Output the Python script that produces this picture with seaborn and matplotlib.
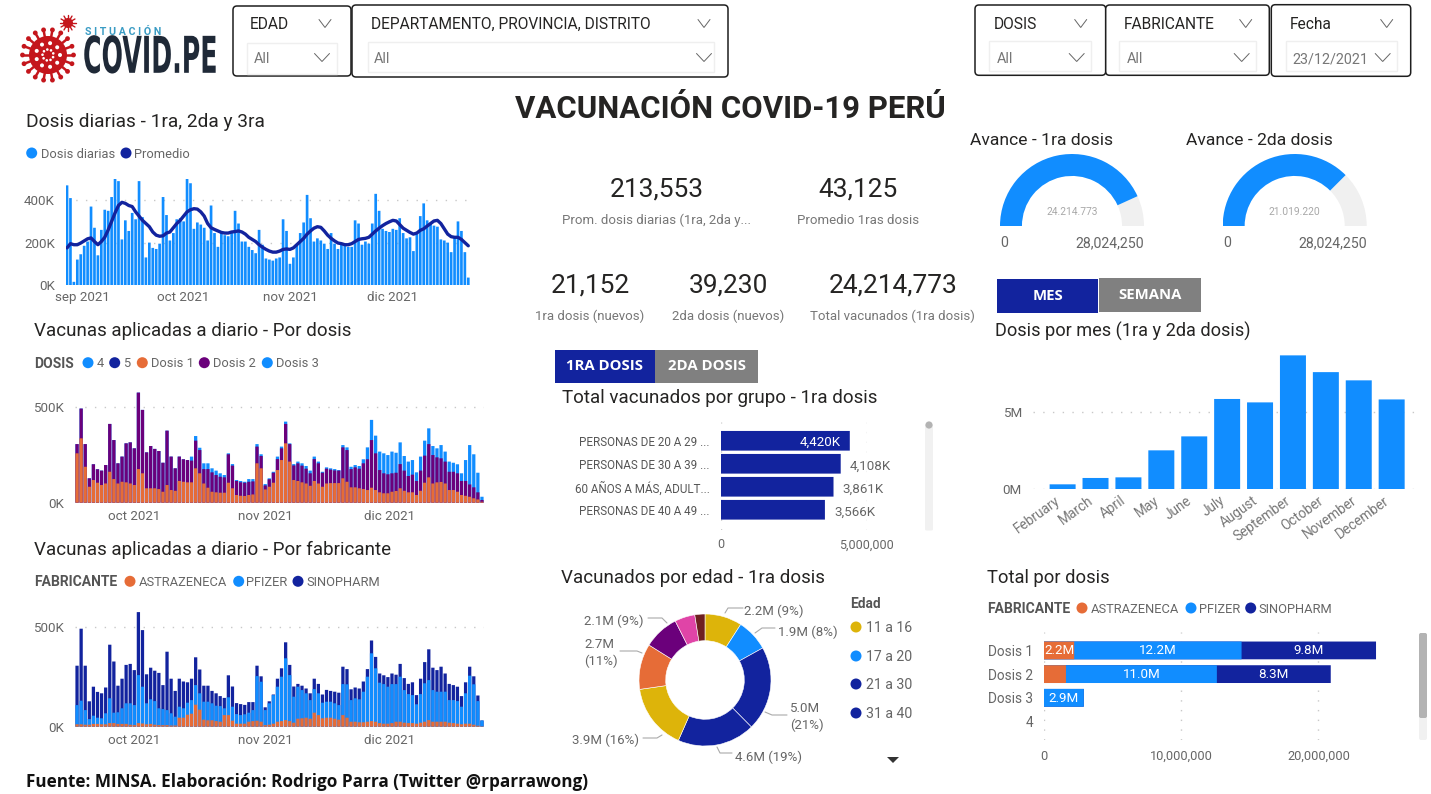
import math
import numpy as np
import pandas as pd
import matplotlib
matplotlib.use("Agg")
import matplotlib.pyplot as plt
from matplotlib.patches import Wedge, Circle, Rectangle, FancyBboxPatch
from matplotlib.patheffects import AbstractPathEffect
from matplotlib.transforms import Affine2D, ScaledTranslation
import seaborn as sns

sns.set_theme(style="white")
plt.rcParams['font.family'] = ['Roboto', 'DejaVu Sans']

BLUE, NAVY, ORANGE, PURPLE = "#118DFF", "#12239E", "#E66C37", "#6B007B"
GOLD, PINK, BROWN = "#DDB40A", "#E044A7", "#6E2020"
INK, GREY, DOTS = "#252423", "#666666", "#C8C8C8"

# ---- data --------------------------------------------------------------
dosis_diarias = [470,410,15,120,145,185,205,370,270,140,260,355,350,415,500,490,215,305,255,340,
    310,490,320,130,200,175,170,195,415,330,210,245,310,315,300,500,480,265,295,285,
    270,210,375,245,180,245,235,230,250,350,290,205,205,180,165,150,260,190,125,120,
    115,125,130,310,255,100,130,185,245,295,425,315,205,220,210,195,170,245,195,170,
    190,185,180,180,305,290,190,205,195,290,430,350,265,255,250,265,260,315,245,220,
    225,160,240,325,385,305,290,280,275,215,210,200,155,225,300,255,155,35]
promedio = [175,195,190,190,198,208,218,222,205,190,205,225,260,300,340,375,390,385,375,370,
    345,325,305,290,275,250,235,230,232,245,250,270,290,305,325,345,355,360,358,345,
    325,290,270,262,255,248,245,245,250,252,255,250,240,225,215,205,190,178,168,160,
    155,155,160,168,170,168,175,190,205,220,240,255,268,275,272,255,235,220,208,198,
    195,190,190,195,205,215,218,220,225,240,255,268,280,290,298,305,302,285,268,258,
    248,240,245,258,265,278,290,302,305,290,265,240,228,225,225,215,200,185]
dias_labels1 = ["sep 2021", "oct 2021", "nov 2021", "dic 2021"]
dias_ticks1 = [4.5, 34, 65, 95]

# running tops of the stacked daily bars (thousands)
hasta_dosis1 = [257,335,187,83,118,104,92,100,161,123,100,109,106,100,92,175,153,75,75,75,
    71,57,92,66,62,113,109,106,106,179,153,100,78,57,54,52,52,104,75,40,
    36,35,40,43,205,179,69,83,104,170,222,309,214,118,113,106,100,88,113,100,
    83,100,102,102,102,127,109,80,80,75,71,66,78,66,54,49,49,57,61,75,
    62,54,54,40,62,104,132,100,106,108,100,66,66,57,40,36,31,23,17,5]
hasta_dosis2 = [305,490,305,127,200,174,167,196,410,326,205,240,309,314,283,573,483,262,295,280,
    269,208,375,240,179,240,226,222,219,323,274,175,175,158,144,135,132,252,193,113,
    106,104,109,111,292,243,90,122,156,227,283,410,305,194,205,193,177,153,227,205,
    156,177,172,168,167,288,274,175,184,177,205,226,326,257,170,153,148,153,156,201,
    167,139,146,113,167,245,305,248,236,231,214,161,161,153,113,113,95,80,54,14]
dosis_total = [305,490,305,127,200,174,167,196,410,326,205,240,309,314,283,573,483,262,295,280,
    269,208,375,240,179,240,226,222,240,347,286,205,205,179,167,153,144,257,201,118,
    113,109,123,123,305,252,97,127,161,240,292,422,309,201,214,205,191,167,240,214,
    161,184,179,175,170,300,288,187,196,191,226,288,431,349,266,257,248,266,260,314,
    243,214,222,158,240,323,387,295,283,300,266,214,208,200,153,222,300,252,156,31]
astrazeneca = [12,12,10,10,14,14,12,12,18,18,14,14,14,10,8,18,16,12,14,10,
    8,8,8,6,6,45,45,60,65,110,85,35,32,32,28,25,58,58,30,15,
    15,15,25,28,30,25,8,10,15,25,28,33,28,20,40,42,45,40,70,58,
    42,45,45,40,35,58,45,25,25,22,22,25,28,25,18,15,15,18,25,25,
    20,18,18,15,20,25,33,25,25,25,25,20,18,15,12,15,15,10,5,2]
hasta_pfizer = [108,130,83,38,55,45,42,67,142,70,72,92,117,117,108,258,200,117,137,128,
    92,88,83,67,50,100,92,120,133,208,167,125,125,117,105,103,92,147,100,63,
    58,62,70,83,253,225,83,117,158,200,250,342,258,150,200,183,167,133,188,167,
    120,125,125,117,108,213,212,133,142,137,175,250,367,292,220,213,200,213,213,250,
    183,163,158,112,163,217,233,183,175,175,175,133,133,128,100,167,255,212,128,31]
dias_labels2 = ["oct 2021", "nov 2021", "dic 2021"]
dias_ticks2 = [14, 46, 76.5]

kpi_values = ["213,553", "43,125", "21,152", "39,230", "24,214,773"]
kpi_names = ["Prom. dosis diarias (1ra, 2da y...", "Promedio 1ras dosis", "1ra dosis (nuevos)",
             "2da dosis (nuevos)", "Total vacunados (1ra dosis)"]

gauge_max = 28024250
avance_1ra = 24214773
avance_2da = 21019220

grupos = ["PERSONAS DE 20 A 29 ...", "PERSONAS DE 30 A 39 ...", "60 AÑOS A MÁS, ADULT...", "PERSONAS DE 40 A 49 ..."]
grupos_k = [4420, 4108, 3861, 3566]

edad_vals = [2.2, 1.9, 5.0, 4.6, 3.9, 2.7, 2.1, 1.2, 0.6]
edad_cols = [GOLD, BLUE, NAVY, NAVY, GOLD, ORANGE, PURPLE, PINK, BROWN]
edad_legend = ["11 a 16", "17 a 20", "21 a 30", "31 a 40"]

meses = ["February","March","April","May","June","July","August","September","October","November","December"]
meses_m = [0.32,0.73,0.77,2.51,3.41,5.82,5.6,8.63,7.55,7.02,5.79]

dosis_names = ["Dosis 1","Dosis 2","Dosis 3","4"]
tot_astra = [2.2,1.6,0.0,0.0]
tot_pfizer = [12.2,11.0,2.9,0.0]
tot_sino = [9.8,8.3,0.0,0.0]

# ---- layout helpers ----------------------------------------------------
W, H = 1431, 794
fig = plt.figure(figsize=(W/100, H/100), dpi=100, facecolor="white")

def axpx(x0, y0, x1, y1):
    ax = fig.add_axes([x0/W, 1-y1/H, (x1-x0)/W, (y1-y0)/H])
    ax.patch.set_alpha(0)
    return ax

def clean(ax, ysize=9.6, xsize=9.6, xpad=4, ypad=8):
    sns.despine(ax=ax, left=True, bottom=True, top=True, right=True)
    ax.set_xlabel(""); ax.set_ylabel("")
    ax.tick_params(axis="both", length=0)
    ax.tick_params(axis="x", labelsize=xsize, labelcolor=GREY, pad=xpad)
    ax.tick_params(axis="y", labelsize=ysize, labelcolor=GREY, pad=ypad)
    for p in ax.patches:
        p.set_snap(False)

def hgrid(ax, ys):
    for y in ys:
        ax.axhline(y, color=DOTS, lw=1, ls=(0, (1, 6)), zorder=0)

def vgrid(ax, xs):
    for x in xs:
        ax.axvline(x, color=DOTS, lw=1, ls=(0, (1, 6)), zorder=0)

def bars(ax, vals, color, width=0.8):
    sns.barplot(x=np.arange(len(vals)), y=vals, color=color,
                width=width, saturation=1, ax=ax, zorder=2, linewidth=0)

# ---- chart 1: dosis diarias --------------------------------------------
ax = axpx(66, 179, 470, 285)
bars(ax, dosis_diarias, BLUE, 0.78)
sns.lineplot(x=np.arange(len(promedio)), y=promedio, color=NAVY, lw=2.4, ax=ax, zorder=3)
ax.set_xlim(-0.3, 117.5); ax.set_ylim(0, 500)
ax.set_yticks([0, 200, 400]); ax.set_yticklabels(["0K", "200K", "400K"])
ax.set_xticks(dias_ticks1); ax.set_xticklabels(dias_labels1)
hgrid(ax, [200, 400]); clean(ax, xpad=4, ypad=8)

# ---- chart 2: por dosis ------------------------------------------------
ax = axpx(75, 388, 484, 502.7)
bars(ax, dosis_total, BLUE); bars(ax, hasta_dosis2, PURPLE); bars(ax, hasta_dosis1, ORANGE)
ax.set_xlim(-0.5, 99.5); ax.set_ylim(0, 597)
ax.set_yticks([0, 500]); ax.set_yticklabels(["0K", "500K"])
ax.set_xticks(dias_ticks2); ax.set_xticklabels(dias_labels2)
hgrid(ax, [500]); clean(ax, xpad=5, ypad=8)

# ---- chart 3: por fabricante -------------------------------------------
ax = axpx(75, 608, 484, 726.7)
bars(ax, dosis_total, NAVY); bars(ax, hasta_pfizer, BLUE); bars(ax, astrazeneca, ORANGE)
ax.set_xlim(-0.5, 99.5); ax.set_ylim(0, 593.5)
ax.set_yticks([0, 500]); ax.set_yticklabels(["0K", "500K"])
ax.set_xticks(dias_ticks2); ax.set_xticklabels(dias_labels2)
hgrid(ax, [500]); clean(ax, xpad=5, ypad=8)

# ---- gauges ------------------------------------------------------------
def gauge(value, maximum, cx):
    ax = axpx(cx-72, 154, cx+72, 226)
    ax.set_xlim(-1, 1); ax.set_ylim(0, 1); ax.axis("off")
    theta = 180*(1-value/maximum)
    ax.add_patch(Wedge((0, 0), 1, 0, theta, width=0.305, color="#F0F0F0", lw=0))
    ax.add_patch(Wedge((0, 0), 1, theta, 180, width=0.305, color=BLUE, lw=0))
gauge(avance_1ra, gauge_max, 1072)
gauge(avance_2da, gauge_max, 1294.7)

# ---- group bars --------------------------------------------------------
ax = axpx(721, 422, 866.7, 530)
sns.barplot(y=grupos, x=grupos_k, color=NAVY, saturation=1, width=0.855, ax=ax, zorder=2, orient="h", linewidth=0)
ax.set_xlim(0, 5000); ax.set_ylim(3.88, -0.817)
ax.set_xticks([0, 5000]); ax.set_xticklabels(["0", "5,000,000"])
vgrid(ax, [0, 5000]); clean(ax, ysize=8.4, xsize=9, xpad=6, ypad=8)
ax.tick_params(axis="y", labelcolor="#555555")
for i, v in enumerate(grupos_k):
    if i == 0:
        ax.text(v-295, i+0.08, f"{v:,}K", color="white", ha="right", va="center", fontsize=9.6, zorder=4)
    else:
        ax.text(v+310, i+0.1, f"{v:,}K", color=GREY, ha="left", va="center", fontsize=9.6, zorder=4)

# ---- donut -------------------------------------------------------------
R = 66
ax = axpx(705-R*1.1, 680-R*1.1, 705+R*1.1, 680+R*1.1)
ax.pie(edad_vals, colors=edad_cols, startangle=90, counterclock=False, radius=1,
       wedgeprops=dict(width=1-39.3/66, edgecolor="white", linewidth=0.4))
ax.set_xlim(-1.1, 1.1); ax.set_ylim(-1.1, 1.1)

# ---- months ------------------------------------------------------------
ax = axpx(1033, 353, 1417, 489.3)
sns.barplot(x=meses, y=meses_m, color=BLUE, saturation=1, width=0.79, ax=ax, zorder=2, linewidth=0)
ax.set_xlim(-0.9, 10.77); ax.set_ylim(0, 136.3/77.6*5)
ax.set_yticks([0, 5]); ax.set_yticklabels(["0M", "5M"])
hgrid(ax, [0, 5]); clean(ax, xpad=3, ypad=8)
ax.tick_params(axis="x", labelsize=9.8, pad=3)
shift = ScaledTranslation(-8/100, 0, fig.dpi_scale_trans)
for lab in ax.get_xticklabels():
    lab.set_rotation(36); lab.set_ha("right"); lab.set_rotation_mode("anchor")
    lab.set_transform(lab.get_transform() + shift)
    lab.set_color("#777777")

# ---- total por dosis ---------------------------------------------------
ax = axpx(1044, 631.7, 1385, 740)
cum1 = [a for a in tot_astra]
cum2 = [a+b for a, b in zip(tot_astra, tot_pfizer)]
cum3 = [a+b+c for a, b, c in zip(tot_astra, tot_pfizer, tot_sino)]
for vals, col in ((cum3, NAVY), (cum2, BLUE), (cum1, ORANGE)):
    sns.barplot(y=dosis_names, x=vals, color=col, saturation=1, width=0.75, ax=ax, zorder=2, orient="h", linewidth=0)
ax.set_xlim(0, 341/13.72); ax.set_ylim(3.78, -0.79)
ax.set_xticks([0, 10, 20]); ax.set_xticklabels(["0", "10,000,000", "20,000,000"])
vgrid(ax, [0, 10, 20]); clean(ax, ysize=9.8, xsize=9.2, xpad=7, ypad=8)
for i in range(4):
    for start, v in ((0, tot_astra[i]), (tot_astra[i], tot_pfizer[i]), (tot_astra[i]+tot_pfizer[i], tot_sino[i])):
        if v >= 2:
            ax.text(start+v/2, i+0.02, f"{v:.1f}M", color="white", ha="center", va="center", fontsize=9.6, zorder=5)

# ---- overlay: texts, legends, slicers, logo ----------------------------
ov = fig.add_axes([0, 0, 1, 1], zorder=10)
ov.set_xlim(0, W); ov.set_ylim(H, 0); ov.axis("off"); ov.patch.set_alpha(0)

def T(x, y, s, size=9.5, color=GREY, ha="left", weight="normal", family=None, va="center", **kw):
    if family:
        kw["family"] = family
    return ov.text(x, y+2.7, s, fontsize=size, color=color, ha=ha, va=va, weight=weight, **kw)

def dot(x, y, c, r=5.5):
    ov.add_patch(Circle((x, y), r, color=c, lw=0))

def chev(x, y, w=6.5, h=4, c="#666666", lw=0.7):
    ov.plot([x-w, x, x+w], [y-h, y+h, y-h], color=c, lw=lw, solid_joinstyle="miter")

def box(x0, y0, x1, y1, ec="#1E1E1E", lw=1.1, r=4, fc="white"):
    ov.add_patch(FancyBboxPatch((x0+r, y0+r), x1-x0-2*r, y1-y0-2*r, boxstyle=f"round,pad={r},rounding_size={r}",
                                ec=ec, fc=fc, lw=lw, mutation_aspect=1))

class Stretch(AbstractPathEffect):
    """Draws real text squeezed/stretched about a display-pixel anchor."""
    def __init__(self, sx, sy, x, y):
        super().__init__()
        self.sx, self.sy, self.x, self.y = sx, sy, x, y
    def draw_path(self, renderer, gc, tpath, affine, rgbFace=None):
        a = affine + Affine2D().translate(-self.x, -self.y).scale(self.sx, self.sy).translate(self.x, self.y)
        renderer.draw_path(gc, tpath, a, rgbFace)

slicers = [
    ((233, 6, 351, 76), (247, 43, 337, 74), "EDAD", "All", 250, 254, 325, 322),
    ((352, 5, 728, 77), (368, 42, 714, 72), "DEPARTAMENTO, PROVINCIA, DISTRITO", "All", 371, 374, 704, 704),
    ((975, 5, 1105.7, 75.3), (989.3, 40.7, 1090.7, 71), "DOSIS", "All", 993.3, 996.7, 1080.7, 1076.7),
    ((1105.7, 5, 1269.3, 75.3), (1119.3, 40.7, 1255.7, 71), "FABRICANTE", "All", 1123.3, 1126.7, 1245.7, 1241.7),
    ((1271.3, 4.7, 1410.7, 76.3), (1285.7, 40.7, 1396.7, 71), "Fecha", "23/12/2021", 1289.3, 1292.7, 1386.7, 1382.7),
]
for o, i, head, txt, hx, tx, c1, c2 in slicers:
    box(*o)
    ov.add_patch(Rectangle((i[0], i[1]), i[2]-i[0], i[3]-i[1], fc="white", ec="#EFEFEF", lw=1))
    T(hx, 22, head, size=11.2, color=INK)
    T(tx, 56.5, txt, size=10.4, color="#777777")
    chev(c1, 23.5, w=6); chev(c2, 57.5, w=7.5)

# logo
red = "#C4161C"
for k in range(18):
    a = 2*math.pi*k/18
    ov.plot([48+17*math.cos(a), 48+24.5*math.cos(a)], [55+17*math.sin(a), 55+24.5*math.sin(a)], color=red, lw=1.8)
    dot(48+25.5*math.cos(a), 55+25.5*math.sin(a), red, r=2.4)
dot(48, 55, red, r=19)
for k in range(9):
    a = 2*math.pi*k/9
    dot(48+12*math.cos(a), 55+12*math.sin(a), "white", r=2.0)
    dot(48+5.5*math.cos(a+.4), 55+5.5*math.sin(a+.4), "white", r=1.3)
for k in range(12):
    a = 2*math.pi*k/12
    ov.plot([68, 68+8*math.cos(a)], [23, 23+8*math.sin(a)], color=red, lw=1)
dot(68, 23, red, r=5)
T(85, 29, "S I T U A C I Ó N", size=7.7, color="#3B9CC4", weight="bold")
T(83, 56, "COVID.PE", size=22, color="#1F2937", weight="bold", family=["DejaVu Sans"],
  path_effects=[Stretch(0.826, 1.66, 83, H-58.7)])

# headline texts
T(730, 106.5, "VACUNACIÓN COVID-19 PERÚ", size=22.4, color=INK, ha="center", weight="bold")
T(26, 779.5, "Fuente: MINSA. Elaboración: Rodrigo Parra (Twitter @rparrawong)", size=12.35, color="#111111", weight="bold",
  family=["Open Sans", "DejaVu Sans"])

# chart titles
for x, y, s, z in [(26, 119.5, "Dosis diarias - 1ra, 2da y 3ra", 13.8), (34, 328.5, "Vacunas aplicadas a diario - Por dosis", 13.5),
                (34, 547.5, "Vacunas aplicadas a diario - Por fabricante", 13.5), (561.7, 395.5, "Total vacunados por grupo - 1ra dosis", 13.5),
                (561, 575.5, "Vacunados por edad - 1ra dosis", 13.5), (995, 328.5, "Dosis por mes (1ra y 2da dosis)", 13.1),
                (987, 575.5, "Total por dosis", 13.2), (970, 138, "Avance - 1ra dosis", 12.6), (1186, 138, "Avance - 2da dosis", 12.6)]:
    T(x, y, s, size=z, color=INK)

# legends
def legend(y, title, items, size=9.3):
    if title:
        T(title[0], y-1.5, title[1], size=10, color="#555555", weight="bold")
    for cx, tx, col, s in items:
        dot(cx, y, col)
        T(tx, y-1.5, s, size=size)

legend(153, None, [(31.7, 40.7, BLUE, "Dosis diarias"), (126, 134, NAVY, "Promedio")])
legend(362.7, (34, "DOSIS"), [(88, 96.7, BLUE, "4"), (114.7, 123.3, NAVY, "5"), (142.3, 150.7, ORANGE, "Dosis 1"),
                              (204.3, 212.7, PURPLE, "Dosis 2"), (267.3, 275.7, BLUE, "Dosis 3")])
legend(581.3, (34, "FABRICANTE"), [(130, 138.3, ORANGE, "ASTRAZENECA"), (238.7, 246, BLUE, "PFIZER"), (298, 306, NAVY, "SINOPHARM")])
legend(608, (987, "FABRICANTE"), [(1082, 1090.7, ORANGE, "ASTRAZENECA"), (1191, 1198.7, BLUE, "PFIZER"), (1250.7, 1258.7, NAVY, "SINOPHARM")])

# KPI cards
kx = [656.7, 857.7, 590, 728, 892.7]
ky = [186.5, 186.5, 283, 283, 283]
sy = [218, 218, 314, 314, 314]
for x, y, y2, v, n in zip(kx, ky, sy, kpi_values, kpi_names):
    T(x, y, v, size=18.9, color=INK, ha="center")
    T(x, y2, n, size=9.5, color="#777777", ha="center")

# gauge labels
for cx, v in ((1072, avance_1ra), (1294.7, avance_2da)):
    T(cx, 209.5, f"{v:,}".replace(",", "."), size=7.4, color="#A8A8A8", ha="center")
    T(cx-68, 240.5, "0", size=10.2, ha="center")
    T(cx+72, 240.5, f"{gauge_max:,}", size=10.2, ha="right")

# toggle buttons
for x0, y0, x1, y1, col, s in [(554.7, 349.7, 655, 382.7, NAVY, "1RA DOSIS"), (655, 349.7, 758, 382.7, "#808080", "2DA DOSIS"),
                               (997, 279.3, 1098.3, 312.7, NAVY, "MES"), (1098.7, 278, 1201, 311.7, "#808080", "SEMANA")]:
    ov.add_patch(Rectangle((x0, y0), x1-x0, y1-y0, color=col, lw=0))
    T((x0+x1)/2, (y0+y1)/2-2.7, s, size=10.7, color="white", ha="center", weight="bold", family=["Open Sans", "DejaVu Sans"])

# donut labels with leader lines
donut_labels = [
    (744, 610, "left", "2.2M (9%)", [(725, 613), (728, 608), (743, 608)]),
    (778, 631, "left", "1.9M (8%)", [(755, 633), (762, 628), (775, 628)]),
    (790, 716, "left", "5.0M\n(21%)", [(765, 712), (772, 715), (787, 715)]),
    (735, 756, "left", "4.6M (19%)", [(717, 747), (720, 753), (732, 753)]),
    (639, 739, "right", "3.9M (16%)", [(662, 735), (657, 738), (643, 738)]),
    (601, 652, "center", "2.7M\n(11%)", [(642, 653), (637, 651), (620, 651)]),
    (644, 620, "right", "2.1M (9%)", [(667, 623), (662, 618), (648, 618)]),
]
for x, y, ha, s, pts in donut_labels:
    T(x, y-1.5, s, size=9.5, ha=ha, linespacing=1.35, multialignment="left")
    ov.plot([p[0] for p in pts], [p[1] for p in pts], color="#AAAAAA", lw=0.8)

T(850, 601.5, "Edad", size=9.8, color="#555555", weight="bold")
for y, c, s in zip([627, 656, 684, 713], [GOLD, BLUE, NAVY, NAVY], edad_legend):
    dot(856, y, c, r=5.5)
    T(866, y-1.5, s, size=10.2)
ov.fill([887, 899, 893], [757, 757, 763], color="#333333", lw=0)

# scrollbars
ov.add_patch(FancyBboxPatch((926.5, 426), 5, 103, boxstyle="round,pad=1.5", fc="#F1F1F1", ec="none"))
dot(929, 425, "#B3B3B3", r=3.6)
ov.add_patch(FancyBboxPatch((1421, 635), 4, 103, boxstyle="round,pad=2", fc="#F1F1F1", ec="none"))
ov.add_patch(FancyBboxPatch((1421, 635), 4, 81, boxstyle="round,pad=2", fc="#B3B3B3", ec="none"))

fig.savefig("out.png", dpi=100)
